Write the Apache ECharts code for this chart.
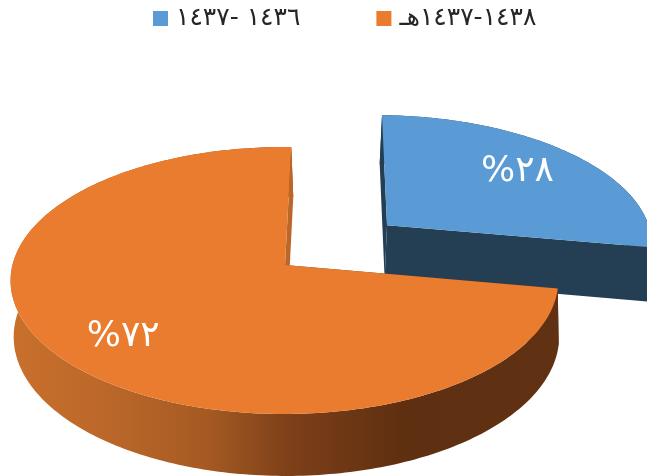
<!DOCTYPE html>
<html><head><meta charset="utf-8">
<style>html,body{margin:0;padding:0;background:#fff}#c{width:647px;height:476px}</style>
<script src="https://cdn.jsdelivr.net/npm/echarts@6/dist/echarts.min.js"></script>
</head><body><div id="c"></div>
<script>
const categories = ['١٤٣٦ -١٤٣٧', '١٤٣٨-١٤٣٧هـ'];
const values = [28, 72];
const valueLabels = ['\u200F٢٨%\u200F', '\u200F٧٢%\u200F'];
const topColors = ['#5b9bd5', '#ea7c30'];

const total = values.reduce((a, b) => a + b, 0);
const view = {cx: 288, cy: 265, A: 272, B: 131.7, H: 55.6, k: 0.116, m: 0.002, d: 0.004};
const DEG = Math.PI / 180;
const sliceLook = [
  {explode: 0.49, nudge: 0, skew: -2, startTweak: 1.2 * DEG, endTweak: -0.7 * DEG, labelR: 0.72, labelShift: [-3, 0],
   wall: '#243e54', side: '#243e54'},
  {explode: 0, nudge: -0.011, skew: 2, startTweak: -0.7 * DEG, endTweak: 1.4 * DEG, labelR: 0.72, labelShift: [-2, 8],
   wall: {type: 'linear', x: 10, y: 0, x2: 557, y2: 0, global: true, colorStops: [
    {offset: 0, color: '#c9702c'}, {offset: 0.18, color: '#bb672a'}, {offset: 0.36, color: '#a55a22'},
    {offset: 0.51, color: '#7d4019'}, {offset: 0.72, color: '#5e2f10'}, {offset: 1, color: '#603112'}]}, side: '#bd6629'}
];

function project(u, v, z) {
  const w = 1 + view.k * v + view.m * u + view.d * z;
  return [view.cx + view.A * u / w, view.cy - view.B * v / w + view.H * z / w];
}
function rendererFor(i) {
  const before = values.slice(0, i).reduce((a, b) => a + b, 0);
  const look = sliceLook[i];
  const s0 = before / total * Math.PI * 2;
  const s1 = (before + values[i]) / total * Math.PI * 2;
  const mid = (s0 + s1) / 2;
  const a0 = s0 + look.startTweak, a1 = s1 + look.endTweak;
  const ou = Math.sin(mid) * look.explode + look.nudge;
  const ov = Math.cos(mid) * look.explode;
  const pt = (r, a, z) => {
    const p = project(ou + r * Math.sin(a), ov + r * Math.cos(a), z);
    p[0] += z * look.skew;
    return p;
  };
  return function () {
    const arcTop = [], arcBot = [];
    const n = Math.ceil((a1 - a0) / DEG);
    for (let j = 0; j <= n; j++) {
      const a = a0 + (a1 - a0) * j / n;
      arcTop.push(pt(1, a, 0));
      arcBot.push(pt(1, a, 1));
    }
    const poly = (points, fill) => ({type: 'polygon', shape: {points}, style: {fill, stroke: null}, silent: true});
    const apexT = pt(0, 0, 0), apexB = pt(0, 0, 1);
    const lab = pt(look.labelR, mid, 0);
    return {type: 'group', children: [
      poly(arcTop.concat(arcBot.slice().reverse()), look.wall),
      poly([apexT, arcTop[0], arcBot[0], apexB], look.wall),
      poly([apexT, arcTop[n], arcBot[n], apexB], look.side),
      poly([apexT].concat(arcTop), topColors[i]),
      {type: 'text', silent: true, style: {x: lab[0] + look.labelShift[0], y: lab[1] + look.labelShift[1], text: valueLabels[i], fill: '#fff',
        font: '36px "DejaVu Sans"', align: 'center', verticalAlign: 'middle'}}
    ]};
  };
}
const chart = echarts.init(document.getElementById('c'), null, {renderer: 'canvas'});
chart.setOption({
  animation: false,
  legend: {
    top: 1, left: 148, itemWidth: 15, itemHeight: 15, itemGap: 76, icon: 'rect',
    textStyle: {fontFamily: 'DejaVu Sans', fontSize: 25, color: '#262626', padding: [0, 0, 16, 3]},
    data: categories
  },
  series: categories.map((name, i) => ({
    type: 'custom', name, coordinateSystem: 'none', silent: true,
    itemStyle: {color: topColors[i]}, data: [values[i]], renderItem: rendererFor(i), z: 2 + i
  }))
});
</script></body></html>
